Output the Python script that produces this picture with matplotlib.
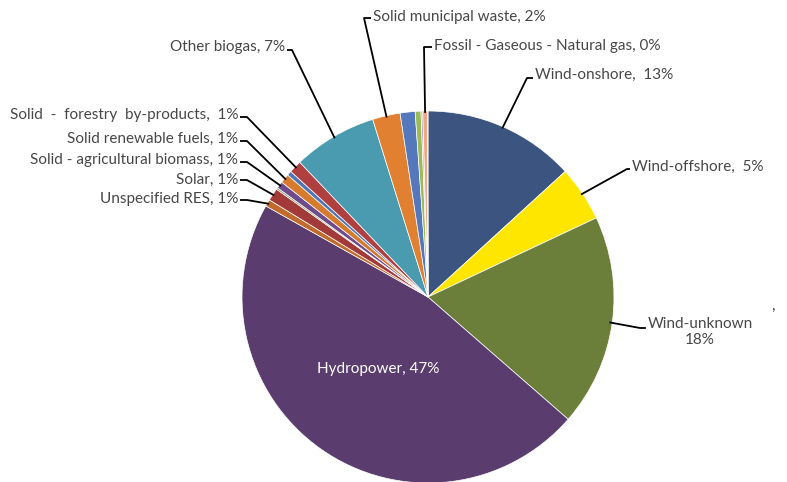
import numpy as np
import matplotlib
matplotlib.use("Agg")
from matplotlib import pyplot as plt

# ---- data (share of renewable generation, %) ----
sources = ["Wind-onshore", "Wind-offshore", "Wind-unknown", "Hydropower",
           "Unspecified RES", "Solar", "Bio-other", "Solid - agricultural biomass",
           "Solid renewable fuels", "Liquid biofuels", "Solid - forestry by-products",
           "Other biogas", "Solid municipal waste", "Geothermal", "Landfill gas",
           "Sewage gas", "Fossil - Gaseous - Natural gas", "Other"]
shares = [13.2, 4.8, 18.4, 46.7,
          0.6, 1.1, 0.15, 0.6,
          0.8, 0.4, 1.1,
          7.3, 2.4, 1.3, 0.5,
          0.15, 0.4, 0.05]
colors = ["#3B5580", "#FFE600", "#6B7F3B", "#5A3D6E",
          "#C06A2B", "#A33A3A", "#8A9A5B", "#6E4C8C",
          "#D67A2E", "#4F75B5", "#B04040",
          "#4A9AB0", "#E08030", "#5577BB", "#9BBB59",
          "#A99BBD", "#F4A582", "#F8D0D0"]

W, H = 787, 482
cx, cy, R = 428, 297, 186

def px(x, y):
    # pixel position -> pie data coords
    return (x - cx) / R, (cy - y) / R

fig = plt.figure(figsize=(W / 100, H / 100), dpi=100)
ax = fig.add_axes([(cx - R) / W, (H - cy - R) / H, 2 * R / W, 2 * R / H])
wedges, _ = ax.pie(shares, colors=colors, startangle=90, counterclock=False,
                   wedgeprops=dict(edgecolor="white", linewidth=0.5))
ax.set_xlim(-1, 1)
ax.set_ylim(-1, 1)
ax.set_aspect("equal")

plt.rcParams['font.family'] = ['Lato', 'DejaVu Sans']
txt_col = "#474747"
fs = 11

total = sum(shares)

def pct(name):
    return shares[sources.index(name)] / total * 100

def lab(name, sep=", "):
    return f"{name}{sep}{pct(name):.0f}%"

def edge_point(name, r=1.0):
    w = wedges[sources.index(name)]
    a = np.deg2rad((w.theta1 + w.theta2) / 2)
    return r * np.cos(a), r * np.sin(a)

# (slice, text, text pixel pos, ha, elbow pixel pos)
outer = [
    ("Solid municipal waste", lab("Solid municipal waste"), (373, 17), "left", (364, 18)),
    ("Fossil - Gaseous - Natural gas", lab("Fossil - Gaseous - Natural gas"), (434, 46), "left", (424, 47)),
    ("Wind-onshore", lab("Wind-onshore", ",  "), (535, 75), "left", (527, 78)),
    ("Wind-offshore", lab("Wind-offshore", ",  "), (632, 167), "left", (627, 169)),
    ("Other biogas", lab("Other biogas"), (285, 47), "right", (292, 50)),
    ("Solid - forestry by-products",
     f"Solid  -  forestry  by-products,  {pct('Solid - forestry by-products'):.0f}%",
     (238, 115), "right", (247, 117)),
    ("Solid renewable fuels", lab("Solid renewable fuels"), (238, 139), "right", (247, 141)),
    ("Solid - agricultural biomass", lab("Solid - agricultural biomass"), (238, 160), "right", (247, 162)),
    ("Solar", lab("Solar"), (238, 180), "right", (247, 180)),
    ("Unspecified RES", lab("Unspecified RES"), (238, 199), "right", (247, 200)),
]

for name, text, (tx, ty), ha, (ex, ey) in outer:
    x0, y0 = px(tx, ty)
    ax.text(x0, y0, text, ha=ha, va="center", fontsize=fs,
            color=txt_col, clip_on=False)
    sx = tx - 2 if ha == "left" else tx + 2
    e = px(ex, ey)
    s = px(sx, ey)
    p = edge_point(name, 0.99)
    ax.plot([s[0], e[0], p[0]], [s[1], e[1], p[1]], color="black",
            lw=1.3, clip_on=False, solid_capstyle="butt")

# Wind-unknown, two-line label
x0, y0 = px(700, 332)
ax.text(x0, y0, "Wind-unknown\n" + f"{pct('Wind-unknown'):.0f}%",
        ha="center", va="center", fontsize=fs, color=txt_col,
        linespacing=1.25, clip_on=False)
p = edge_point("Wind-unknown", 0.99)
s = px(645, 328)
e = px(640, 328)
ax.plot([s[0], e[0], p[0]], [s[1], e[1], p[1]], color="black", lw=1.3, clip_on=False)
x0, y0 = px(773, 306)
ax.text(x0, y0, ",", ha="center", va="center", fontsize=fs, color=txt_col, clip_on=False)

# Hydropower label inside the slice
x0, y0 = px(378, 369)
ax.text(x0, y0, lab("Hydropower"), ha="center", va="center", fontsize=fs,
        color="white")

fig.savefig("out.png", dpi=100)
